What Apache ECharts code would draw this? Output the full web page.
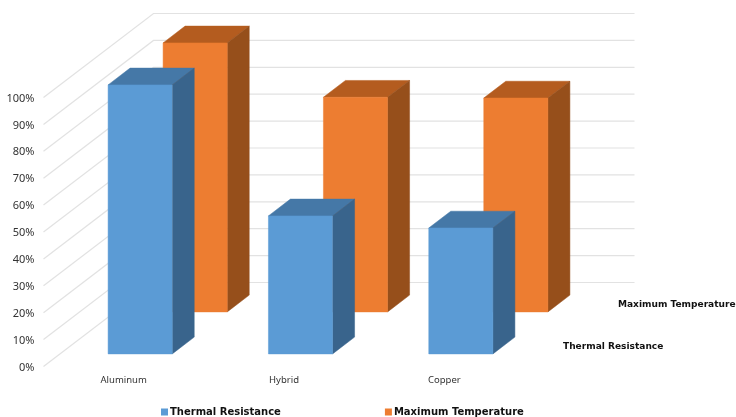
<!DOCTYPE html>
<html>
<head>
<meta charset="utf-8">
<style>html,body{margin:0;padding:0;background:#fff}#c{width:736px;height:417px}</style>
<script src="https://cdn.jsdelivr.net/npm/echarts@6/dist/echarts.min.js"></script>
</head>
<body>
<div id="c"></div>
<script>
const categories = ['Aluminum', 'Hybrid', 'Copper'];
const thermalResistance = [100, 51.3, 46.8];
const maximumTemperature = [100, 79.8, 79.5];
const percentTicks = [0, 10, 20, 30, 40, 50, 60, 70, 80, 90, 100];

// 3D projection: full floor depth in pixels
const DEPTH_X = 110, DEPTH_Y = -84;
const BAR_DEPTH = 0.2, BAR_WIDTH = 0.4;
const AXIS_FONT = 'Noto Sans', BOLD_FONT = 'DejaVu Sans';

function barRenderer(depthCenter, front, top, side) {
  return function (params, api) {
    const i = api.value(0), v = api.value(1);
    const base = api.coord([i, 0]), peak = api.coord([i, v]);
    const w = api.size([1, 0])[0] * BAR_WIDTH;
    const t0 = depthCenter - BAR_DEPTH / 2;
    const ox = DEPTH_X * t0, oy = DEPTH_Y * t0;
    const dx = DEPTH_X * BAR_DEPTH, dy = DEPTH_Y * BAR_DEPTH;
    const l = base[0] - w / 2 + ox, r = base[0] + w / 2 + ox;
    const b = base[1] + oy, h = peak[1] + oy;
    const poly = (pts, fill) => ({ type: 'polygon', shape: { points: pts },
      style: { fill, stroke: fill, lineWidth: 0.5 } });
    return { type: 'group', children: [
      poly([[l, h], [r, h], [r + dx, h + dy], [l + dx, h + dy]], top),
      poly([[r, b], [r + dx, b + dy], [r + dx, h + dy], [r, h]], side),
      poly([[l, b], [r, b], [r, h], [l, h]], front)
    ]};
  };
}

function wallRenderer(params, api) {
  const p = api.coord([0, api.value(1)]);
  const cs = params.coordSys;
  const x0 = cs.x, y = p[1];
  return { type: 'polyline',
    shape: { points: [[x0, y], [x0 + DEPTH_X, y + DEPTH_Y], [x0 + cs.width + DEPTH_X, y + DEPTH_Y]] },
    style: { stroke: '#e2e2e2', lineWidth: 1.2, fill: null } };
}

const chart = echarts.init(document.getElementById('c'), null, { renderer: 'canvas' });
chart.setOption({
  animation: false,
  backgroundColor: '#ffffff',
  grid: { left: 43.5, right: 211.5, top: 97.5, bottom: 50.5, containLabel: false },
  legend: {
    data: ['Thermal Resistance', 'Maximum Temperature'],
    left: 156, bottom: -5, icon: 'rect', itemWidth: 7, itemHeight: 7, itemGap: 104,
    textStyle: { fontFamily: BOLD_FONT, fontWeight: 'bold', fontSize: 10, color: '#111', padding: [0, 0, 0, -3] },
    selectedMode: false
  },
  xAxis: {
    type: 'category', data: categories,
    axisLine: { show: false }, axisTick: { show: false }, splitLine: { show: false },
    axisLabel: { fontFamily: AXIS_FONT, fontSize: 9.5, color: '#333', margin: 9 }
  },
  yAxis: {
    type: 'value', min: 0, max: 100, interval: 10,
    axisLine: { show: false }, axisTick: { show: false }, splitLine: { show: false },
    axisLabel: { formatter: '{t|{value}%}', margin: 9,
      rich: { t: { fontFamily: AXIS_FONT, fontSize: 11, color: '#333', padding: [2, 0, 0, 0] } } }
  },
  graphic: [
    { type: 'text', left: 563, top: 342, silent: true,
      style: { text: 'Thermal Resistance', fontFamily: BOLD_FONT, fontWeight: 'bold', fontSize: 9.05, fill: '#111' } },
    { type: 'text', left: 618, top: 300, silent: true,
      style: { text: 'Maximum Temperature', fontFamily: BOLD_FONT, fontWeight: 'bold', fontSize: 9.05, fill: '#111' } }
  ],
  series: [
    { type: 'custom', name: 'walls', silent: true, z: 1, clip: false,
      renderItem: wallRenderer, encode: { x: 0, y: 1 },
      data: percentTicks.map(v => [0, v]) },
    { type: 'custom', name: 'Maximum Temperature', silent: true, z: 2, clip: false,
      itemStyle: { color: '#ed7d31' },
      renderItem: barRenderer(0.75, '#ed7d31', '#b45c1f', '#964f1b'), encode: { x: 0, y: 1 },
      data: maximumTemperature.map((v, i) => [i, v]) },
    { type: 'custom', name: 'Thermal Resistance', silent: true, z: 3, clip: false,
      itemStyle: { color: '#5b9bd5' },
      renderItem: barRenderer(0.25, '#5b9bd5', '#4578a7', '#39648c'), encode: { x: 0, y: 1 },
      data: thermalResistance.map((v, i) => [i, v]) }
  ]
});
</script>
</body>
</html>
